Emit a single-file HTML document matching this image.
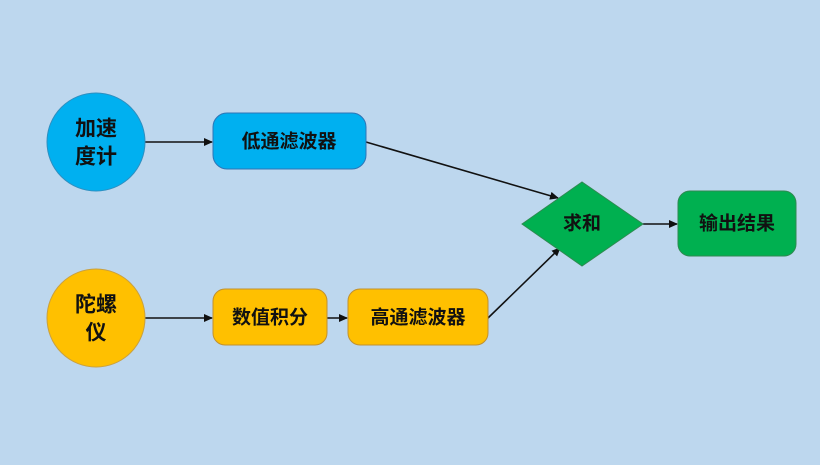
<!DOCTYPE html>
<html><head><meta charset="utf-8"><style>
html,body{margin:0;padding:0;background:#bdd7ee;}
svg text{font-family:"Liberation Sans","Noto Sans CJK SC",sans-serif;font-size:19px;font-weight:bold;fill:#111;text-anchor:middle;dominant-baseline:central;}
svg text.c{font-size:21px;}
</style></head><body>
<svg width="820" height="460" viewBox="0 0 820 460">
<defs><marker id="a" markerWidth="9" markerHeight="9" refX="8" refY="4.5" orient="auto" markerUnits="userSpaceOnUse"><path d="M0,0.5 L9,4.5 L0,8.5 z" fill="#111"/></marker></defs>
<rect width="820" height="460" fill="#bdd7ee"/>
<g stroke="#111" stroke-width="1.6" fill="none" marker-end="url(#a)">
<line x1="145" y1="142" x2="212" y2="142"/>
<line x1="366" y1="142" x2="558" y2="198"/>
<line x1="488" y1="318" x2="560" y2="248"/>
<line x1="643" y1="224" x2="677" y2="224"/>
<line x1="145" y1="318" x2="212" y2="318"/>
<line x1="327" y1="318" x2="347" y2="318"/>
</g>
<circle cx="96" cy="142" r="49" fill="#00b0f0" stroke="#2e8fc0" stroke-width="1"/>
<circle cx="96" cy="318" r="49" fill="#ffc000" stroke="#c9a040" stroke-width="1"/>
<rect x="213" y="113" width="153" height="56" rx="14" fill="#00b0f0" stroke="#2e75b6" stroke-width="1"/>
<rect x="213" y="289" width="114" height="56" rx="12" fill="#ffc000" stroke="#c09030" stroke-width="1"/>
<rect x="348" y="289" width="140" height="56" rx="12" fill="#ffc000" stroke="#c09030" stroke-width="1"/>
<polygon points="522,224 582,182 643,224 582,266" fill="#00b050" stroke="#2e8a50" stroke-width="1"/>
<rect x="678" y="191" width="118" height="65" rx="12" fill="#00b050" stroke="#2e8a50" stroke-width="1"/>
<text class="c" x="96" y="129">加速</text><text class="c" x="96" y="157">度计</text>
<text class="c" x="96" y="305">陀螺</text><text class="c" x="96" y="333">仪</text>
<text x="289" y="142">低通滤波器</text>
<text x="270" y="318">数值积分</text>
<text x="418" y="318">高通滤波器</text>
<text x="582" y="224">求和</text>
<text x="737" y="224">输出结果</text>
</svg>
</body></html>
